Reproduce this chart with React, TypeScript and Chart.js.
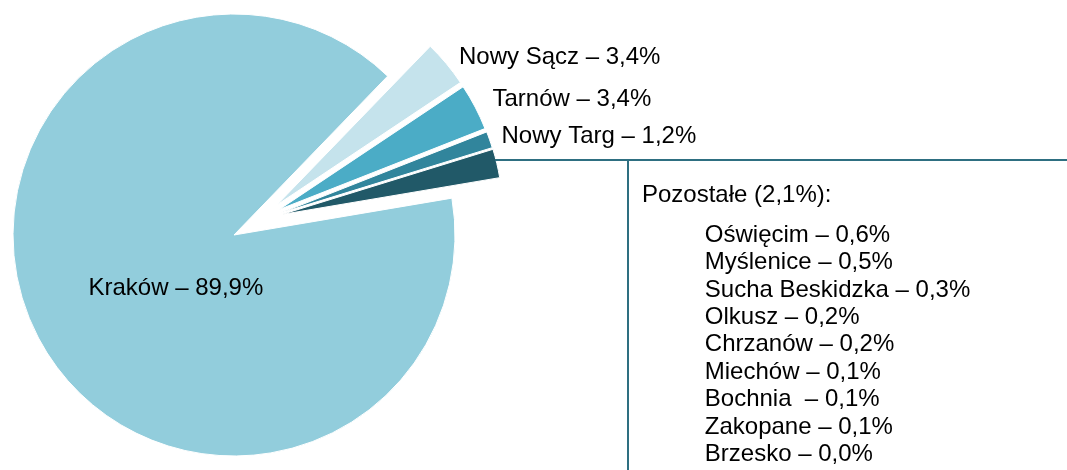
import React, { useEffect, useRef } from 'react';
import { Chart, registerables } from 'chart.js';

Chart.register(...registerables);

// ---- data ----
const categories = ['Kraków', 'Nowy Sącz', 'Tarnów', 'Nowy Targ', 'Pozostałe'];
const shares = [89.9, 3.4, 3.4, 1.2, 2.1];
const otherNames = [
  'Oświęcim',
  'Myślenice',
  'Sucha Beskidzka',
  'Olkusz',
  'Chrzanów',
  'Miechów',
  'Bochnia ',
  'Zakopane',
  'Brzesko',
];
const otherShares = [0.6, 0.5, 0.3, 0.2, 0.2, 0.1, 0.1, 0.1, 0.0];

// ---- styles ----
const sliceColors = ['#92CDDC', '#C5E3EC', '#4BACC6', '#31859C', '#215968'];
// explosion: distance (px) and direction (degrees clockwise from 12 o'clock)
const explodeDist = [0, 52, 52, 52, 52];
const explodeDir = [0, 55, 60.6, 64.8, 66.8];
const FONT = '24px "Liberation Sans", Arial, sans-serif';
const LINE_COLOR = '#2E6F81';

const fmt = (v: number) => v.toFixed(1).replace('.', ',');

// label anchor positions (left x, baseline y) for the main slices
const labelPos: Array<[number, number]> = [
  [88.5, 295],
  [459, 63.5],
  [492.5, 106],
  [501.5, 142.5],
];
const OTHER_HEADER: [number, number] = [642, 201.5];
const OTHER_LIST_X = 704.8;
const OTHER_LIST_Y0 = 241.7;
const OTHER_LIST_STEP = 27.4;
const BRACKET_Y = 160;
const BRACKET_X = 628;

const explodePlugin = {
  id: 'explodeSlices',
  afterDatasetsUpdate(chart: any) {
    const meta = chart.getDatasetMeta(0);
    meta.data.forEach((arc: any, i: number) => {
      const d = explodeDist[i] || 0;
      if (!d) return;
      const a = ((explodeDir[i] - 90) * Math.PI) / 180;
      arc.x += Math.cos(a) * d;
      arc.y += Math.sin(a) * d;
    });
  },
};

const labelsPlugin = {
  id: 'customLabels',
  afterDatasetsDraw(chart: any) {
    const ctx: CanvasRenderingContext2D = chart.ctx;
    const meta = chart.getDatasetMeta(0);
    ctx.save();

    // bracket lines from the "Pozostałe" slice
    const arc = meta.data[4];
    if (arc) {
      const cx = arc.x;
      const cy = arc.y;
      const r = arc.outerRadius;
      const dy = BRACKET_Y - cy;
      const sx = cx + Math.sqrt(Math.max(r * r - dy * dy, 0)) - 1;
      ctx.strokeStyle = LINE_COLOR;
      ctx.lineWidth = 2;
      ctx.beginPath();
      ctx.moveTo(sx, BRACKET_Y);
      ctx.lineTo(chart.width, BRACKET_Y);
      ctx.moveTo(BRACKET_X, BRACKET_Y);
      ctx.lineTo(BRACKET_X, chart.height);
      ctx.stroke();
    }

    ctx.fillStyle = '#000';
    ctx.font = FONT;
    ctx.textAlign = 'left';
    ctx.textBaseline = 'alphabetic';
    for (let i = 0; i < labelPos.length; i++) {
      const [x, y] = labelPos[i];
      ctx.fillText(`${categories[i]} – ${fmt(shares[i])}%`, x, y);
    }
    ctx.fillText(`${categories[4]} (${fmt(shares[4])}%):`, OTHER_HEADER[0], OTHER_HEADER[1]);
    for (let i = 0; i < otherNames.length; i++) {
      ctx.fillText(
        `${otherNames[i]} – ${fmt(otherShares[i])}%`,
        OTHER_LIST_X,
        OTHER_LIST_Y0 + i * OTHER_LIST_STEP,
      );
    }
    ctx.restore();
  },
};

export default function App() {
  const ref = useRef<HTMLCanvasElement | null>(null);

  useEffect(() => {
    if (!ref.current) return;
    const chart = new Chart(ref.current, {
      type: 'pie',
      data: {
        labels: categories,
        datasets: [
          {
            data: shares,
            backgroundColor: sliceColors,
            borderColor: '#ffffff',
            borderWidth: 1,
            clip: false,
          } as any,
        ],
      },
      options: {
        responsive: false,
        animation: false,
        rotation: 80.4,
        radius: 221,
        layout: { padding: { left: 0, top: 0, right: 599, bottom: 0 } },
        plugins: {
          legend: { display: false },
          tooltip: { enabled: false },
          title: { display: false },
        },
        events: [],
      } as any,
      plugins: [explodePlugin, labelsPlugin],
    });
    return () => chart.destroy();
  }, []);

  return (
    <div style={{ position: 'absolute', left: 0, top: 0, width: 1067, height: 470, background: '#fff' }}>
      <canvas ref={ref} width={1067} height={470} style={{ display: 'block' }} />
    </div>
  );
}
